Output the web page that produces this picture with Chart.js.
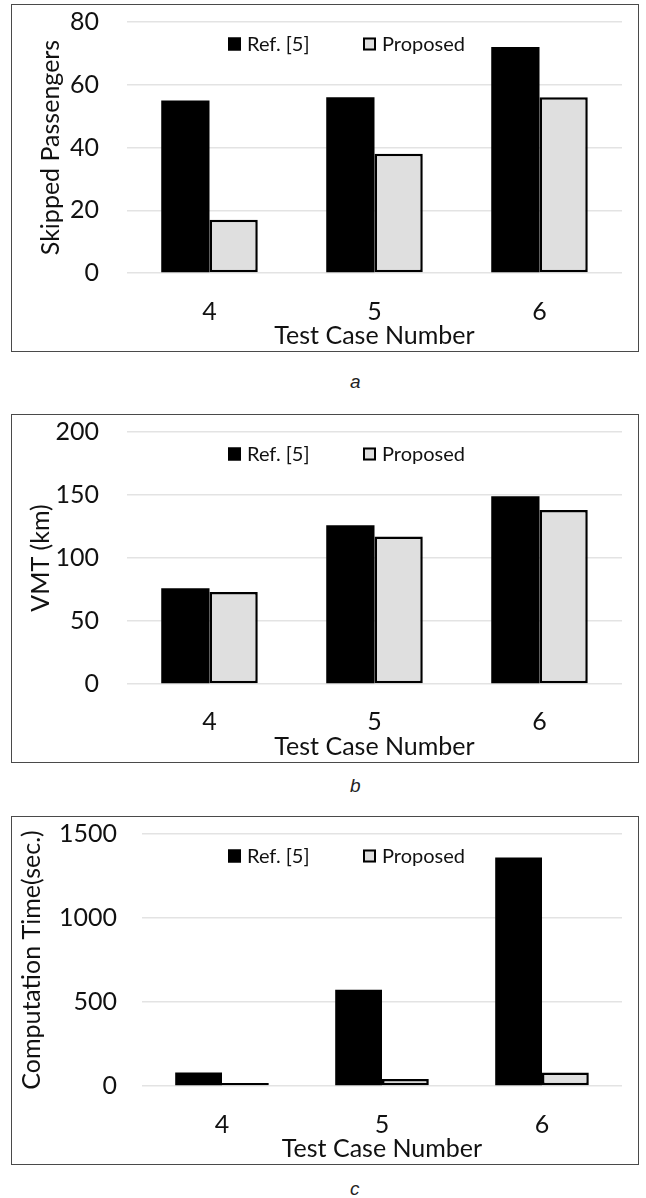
<!DOCTYPE html>
<html>
<head>
<meta charset="utf-8">
<script src="https://cdn.jsdelivr.net/npm/chart.js@4/dist/chart.umd.min.js"></script>
<style>
  html, body { margin: 0; padding: 0; background: #ffffff; }
  body { position: relative; width: 646px; height: 1198px; overflow: hidden; }
  .panel { position: absolute; left: 11px; width: 628px; border: 1px solid #4a4a4a; box-sizing: border-box; background: #fff; }
  .panel canvas { display: block; }
  .cap { position: absolute; left: 350px; font: italic 19px "Liberation Sans", Arial, sans-serif; color: #222; }
</style>
</head>
<body>
<div class="panel" style="top:4px;height:348px;"><canvas id="chartA" width="626" height="346"></canvas></div>
<div class="cap" style="top:371px;">a</div>
<div class="panel" style="top:414px;height:349px;"><canvas id="chartB" width="626" height="347"></canvas></div>
<div class="cap" style="top:775px;">b</div>
<div class="panel" style="top:816px;height:349px;"><canvas id="chartC" width="626" height="347"></canvas></div>
<div class="cap" style="top:1178px;">c</div>
<script>
// Test cases on the x axis
const testCases = ['4', '5', '6'];
const seriesNames = ['Ref. [5]', 'Proposed'];

// (a) skipped passengers
const skippedRef = [55, 56, 72];
const skippedProposed = [17, 38, 56];

// (b) vehicle miles travelled, km
const vmtRef = [76, 126, 149];
const vmtProposed = [73, 117, 138];

// (c) computation time, seconds
const timeRef = [80, 573, 1360];
const timeProposed = [18, 42, 80];

// y-axis tick ranges
const skippedTicks = { max: 80, step: 20 };
const vmtTicks = { max: 200, step: 50 };
const timeTicks = { max: 1500, step: 500 };

const FONT = 'Lato, "Open Sans", sans-serif';
const INK = '#111111';

// legend drawn inside the plot, just below the top gridline
const insideLegend = {
  id: 'insideLegend',
  afterDraw(chart, args, opts) {
    const ctx = chart.ctx;
    const y = chart.chartArea.top + opts.offsetY;
    const s = opts.box;
    ctx.save();
    ctx.font = opts.fontSize + 'px ' + FONT;
    ctx.textBaseline = 'middle';
    ctx.textAlign = 'left';
    chart.data.datasets.forEach((ds, i) => {
      const x = opts.xs[i];
      ctx.fillStyle = ds.backgroundColor;
      ctx.fillRect(x, y - s / 2, s, s);
      ctx.lineWidth = 2;
      ctx.strokeStyle = ds.borderColor;
      ctx.strokeRect(x + 1, y - s / 2 + 1, s - 2, s - 2);
      ctx.fillStyle = INK;
      ctx.fillText(ds.label, x + s + opts.gap, y + 1);
    });
    ctx.restore();
  }
};

function makePanel(id, refData, propData, yTitle, ticks, geom) {
  new Chart(document.getElementById(id), {
    type: 'bar',
    data: {
      labels: testCases,
      datasets: [
        {
          label: seriesNames[0], data: refData,
          backgroundColor: '#000000', borderColor: '#000000',
          borderWidth: 0, borderSkipped: false
        },
        {
          label: seriesNames[1], data: propData,
          backgroundColor: '#dfdfdf', borderColor: '#000000',
          borderWidth: 2.5, borderSkipped: false
        }
      ]
    },
    options: {
      responsive: false,
      devicePixelRatio: 1,
      animation: false,
      events: [],
      datasets: { bar: { categoryPercentage: 0.585, barPercentage: 1.0 } },
      layout: { padding: { top: geom.top, right: 16, left: 0, bottom: 0 } },
      plugins: {
        legend: { display: false },
        tooltip: { enabled: false },
        insideLegend: { xs: [216, 351], offsetY: 22, box: 13, gap: 6, fontSize: 20 }
      },
      scales: {
        x: {
          grid: { display: false },
          border: { display: false },
          ticks: { color: INK, font: { family: FONT, size: 25 }, padding: geom.xPad },
          title: { display: true, text: 'Test Case Number', color: INK,
                   font: { family: FONT, size: 25 }, padding: { top: 0, bottom: 0 } },
          afterFit(scale) { scale.height = geom.xHeight; }
        },
        y: {
          min: 0, max: ticks.max,
          // invisible tick marks keep the labels clear of the plot
          grid: { color: '#e3e3e3', lineWidth: 1.5, drawTicks: true,
                  tickLength: geom.yGap, tickColor: 'rgba(0,0,0,0)' },
          border: { display: false },
          ticks: { stepSize: ticks.step, color: INK, font: { family: FONT, size: 25 }, padding: 0,
                   callback: (v) => String(v) },
          title: { display: true, text: yTitle, color: INK,
                   font: { family: FONT, size: 25 }, padding: { top: geom.titlePad, bottom: 0 } },
          afterFit(scale) { scale.width = geom.yWidth; }
        }
      }
    },
    plugins: [insideLegend]
  });
}

makePanel('chartA', skippedRef, skippedProposed, 'Skipped Passengers', skippedTicks,
  { top: 17, xHeight: 78, xPad: 16, yGap: 28, yWidth: 115, titlePad: 24 });
makePanel('chartB', vmtRef, vmtProposed, 'VMT (km)', vmtTicks,
  { top: 17, xHeight: 78, xPad: 15, yGap: 28, yWidth: 115, titlePad: 14 });
makePanel('chartC', timeRef, timeProposed, 'Computation Time(sec.)', timeTicks,
  { top: 17, xHeight: 78, xPad: 16, yGap: 25, yWidth: 130, titlePad: 5 });
</script>
</body>
</html>
